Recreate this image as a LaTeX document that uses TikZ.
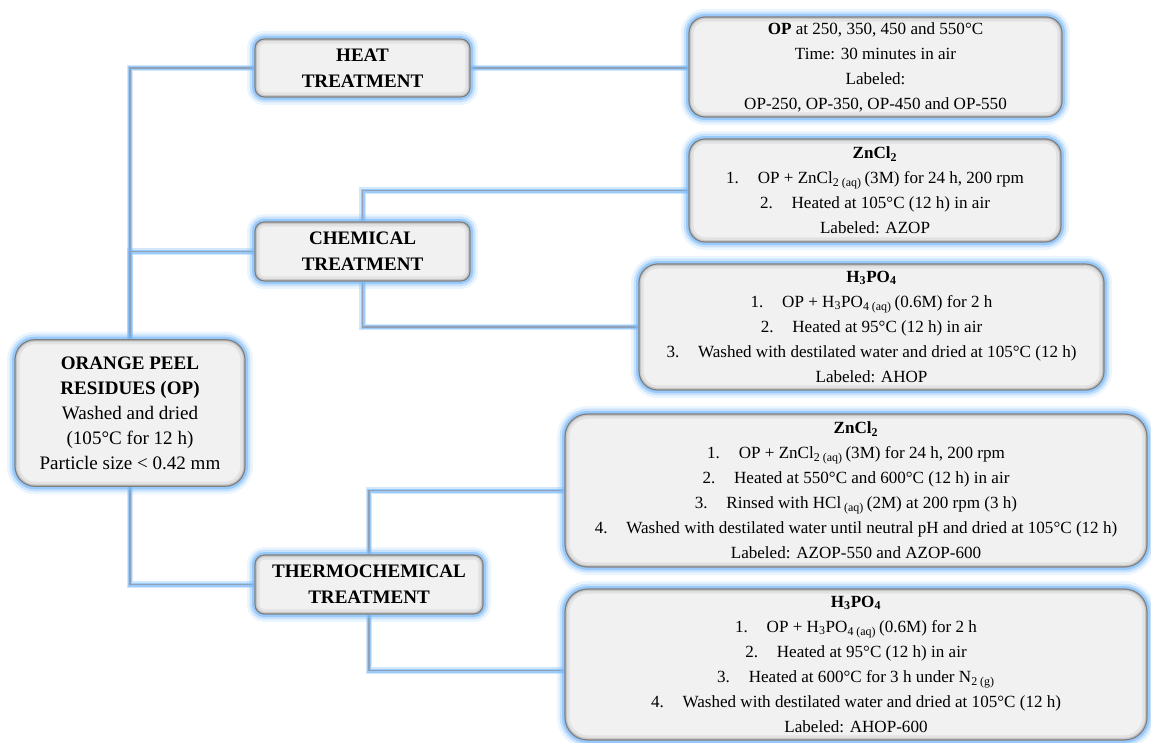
\documentclass[tikz,border=0pt]{standalone}
\usepackage{fontspec}
\setmainfont{Liberation Serif}
\usetikzlibrary{backgrounds}
\definecolor{boxfill}{HTML}{F1F1F1}
\definecolor{boxline}{HTML}{7F7F7F}
\definecolor{glow}{RGB}{120,185,250}
\definecolor{wirecore}{RGB}{145,160,180}
\begin{document}
\begin{tikzpicture}[x=0.75pt,y=-0.75pt,
  glowbox/.style={draw=boxline, fill=boxfill, line width=0.9pt, inner sep=0pt, align=center,
    rounded corners=#1,
    preaction={draw=glow, fill=none, line width=12pt, opacity=0.15},
    preaction={draw=glow, fill=none, line width=8pt, opacity=0.3},
    preaction={draw=glow, fill=none, line width=4.5pt, opacity=0.6},
    path picture={
      \draw[black, opacity=0.06, line width=7pt, rounded corners=#1]
        (path picture bounding box.south west) rectangle (path picture bounding box.north east);
      \draw[black, opacity=0.12, line width=3pt, rounded corners=#1]
        (path picture bounding box.south west) rectangle (path picture bounding box.north east);
    }},
  body/.style={font=\fontsize{12.8pt}{18.75pt}\selectfont},
  head/.style={font=\bfseries\fontsize{14.3pt}{19.5pt}\selectfont},
  wire/.style={draw=wirecore, line width=1.1pt,
    preaction={draw=glow, line width=5pt, opacity=0.35},
    preaction={draw=glow, line width=3pt, opacity=0.6}},
]
\useasboundingbox (0,0) rectangle (1151,742);

% --- main boxes ---
\node[glowbox=15pt, minimum width=172.5pt, minimum height=110pt,
      font=\fontsize{14.3pt}{18.75pt}\selectfont] (op) at (130,413)
  {\textbf{ORANGE PEEL}\\ \textbf{RESIDUES (OP)}\\ Washed and dried\\ (105°C for 12 h)\\ Particle size < 0.42 mm};

\node[glowbox=7pt, head, minimum width=161.25pt, minimum height=43.5pt] (heat) at (362.5,68)
  {HEAT\\ TREATMENT};
\node[glowbox=7pt, head, minimum width=161.25pt, minimum height=44.25pt] (chem) at (362.5,251.5)
  {CHEMICAL\\ TREATMENT};
\node[glowbox=7pt, head, minimum width=171pt, minimum height=44.25pt] (thermo) at (369,584.5)
  {THERMOCHEMICAL\\ TREATMENT};

% --- detail boxes ---
\node[glowbox=12pt, body, minimum width=279.75pt, minimum height=75pt] (heatd) at (875.5,67)
  {\textbf{OP} at 250, 350, 450 and 550°C\\
   Time: 30 minutes in air\\
   Labeled:\\
   OP-250, OP-350, OP-450 and OP-550};

\node[glowbox=12pt, body, minimum width=279pt, minimum height=77.25pt] (zn1) at (875,190.5)
  {\textbf{ZnCl\textsubscript{2}}\\
   1.\hspace{1.1em}OP + ZnCl\textsubscript{2 (aq)}\,(3M) for 24 h, 200 rpm\\
   2.\hspace{1.1em}Heated at 105°C (12 h) in air\\
   Labeled: AZOP};

\node[glowbox=14pt, body, minimum width=348.75pt, minimum height=94.5pt] (h1) at (871.5,327)
  {\textbf{H\textsubscript{3}PO\textsubscript{4}}\\
   1.\hspace{1.1em}OP + H\textsubscript{3}PO\textsubscript{4 (aq)}\,(0.6M) for 2 h\\
   2.\hspace{1.1em}Heated at 95°C (12 h) in air\\
   3.\hspace{1.1em}Washed with destilated water and dried at 105°C (12 h)\\
   Labeled: AHOP};

\node[glowbox=17pt, body, minimum width=436.5pt, minimum height=114.75pt] (zn2) at (856,490.5)
  {\textbf{ZnCl\textsubscript{2}}\\
   1.\hspace{1.1em}OP + ZnCl\textsubscript{2 (aq)}\,(3M) for 24 h, 200 rpm\\
   2.\hspace{1.1em}Heated at 550°C and 600°C (12 h) in air\\
   3.\hspace{1.1em}Rinsed with HCl\,\textsubscript{(aq)}\,(2M) at 200 rpm (3 h)\\
   4.\hspace{1.1em}Washed with destilated water until neutral pH and dried at 105°C (12 h)\\
   Labeled: AZOP-550 and AZOP-600};

\node[glowbox=17pt, body, minimum width=436.5pt, minimum height=113.25pt] (h2) at (856,664.5)
  {\textbf{H\textsubscript{3}PO\textsubscript{4}}\\
   1.\hspace{1.1em}OP + H\textsubscript{3}PO\textsubscript{4 (aq)}\,(0.6M) for 2 h\\
   2.\hspace{1.1em}Heated at 95°C (12 h) in air\\
   3.\hspace{1.1em}Heated at 600°C for 3 h under N\textsubscript{2 (g)}\\
   4.\hspace{1.1em}Washed with destilated water and dried at 105°C (12 h)\\
   Labeled: AHOP-600};

\path (h2.west) ++(0,6) coordinate (h2in);

% --- connectors ---
\begin{pgfonlayer}{background}
\draw[wire] (heat.west) -| (op.north);
\draw[wire] (chem.west) -| (op.north);
\draw[wire] (thermo.west) -| (op.south);
\draw[wire] (heat.east) -- (heat.east -| heatd.west);
\draw[wire] (chem.north) |- (zn1.west);
\draw[wire] (chem.south) |- (h1.west);
\draw[wire] (thermo.north) |- (zn2.west);
\draw[wire] (thermo.south) |- (h2in);
\end{pgfonlayer}
\end{tikzpicture}
\end{document}
